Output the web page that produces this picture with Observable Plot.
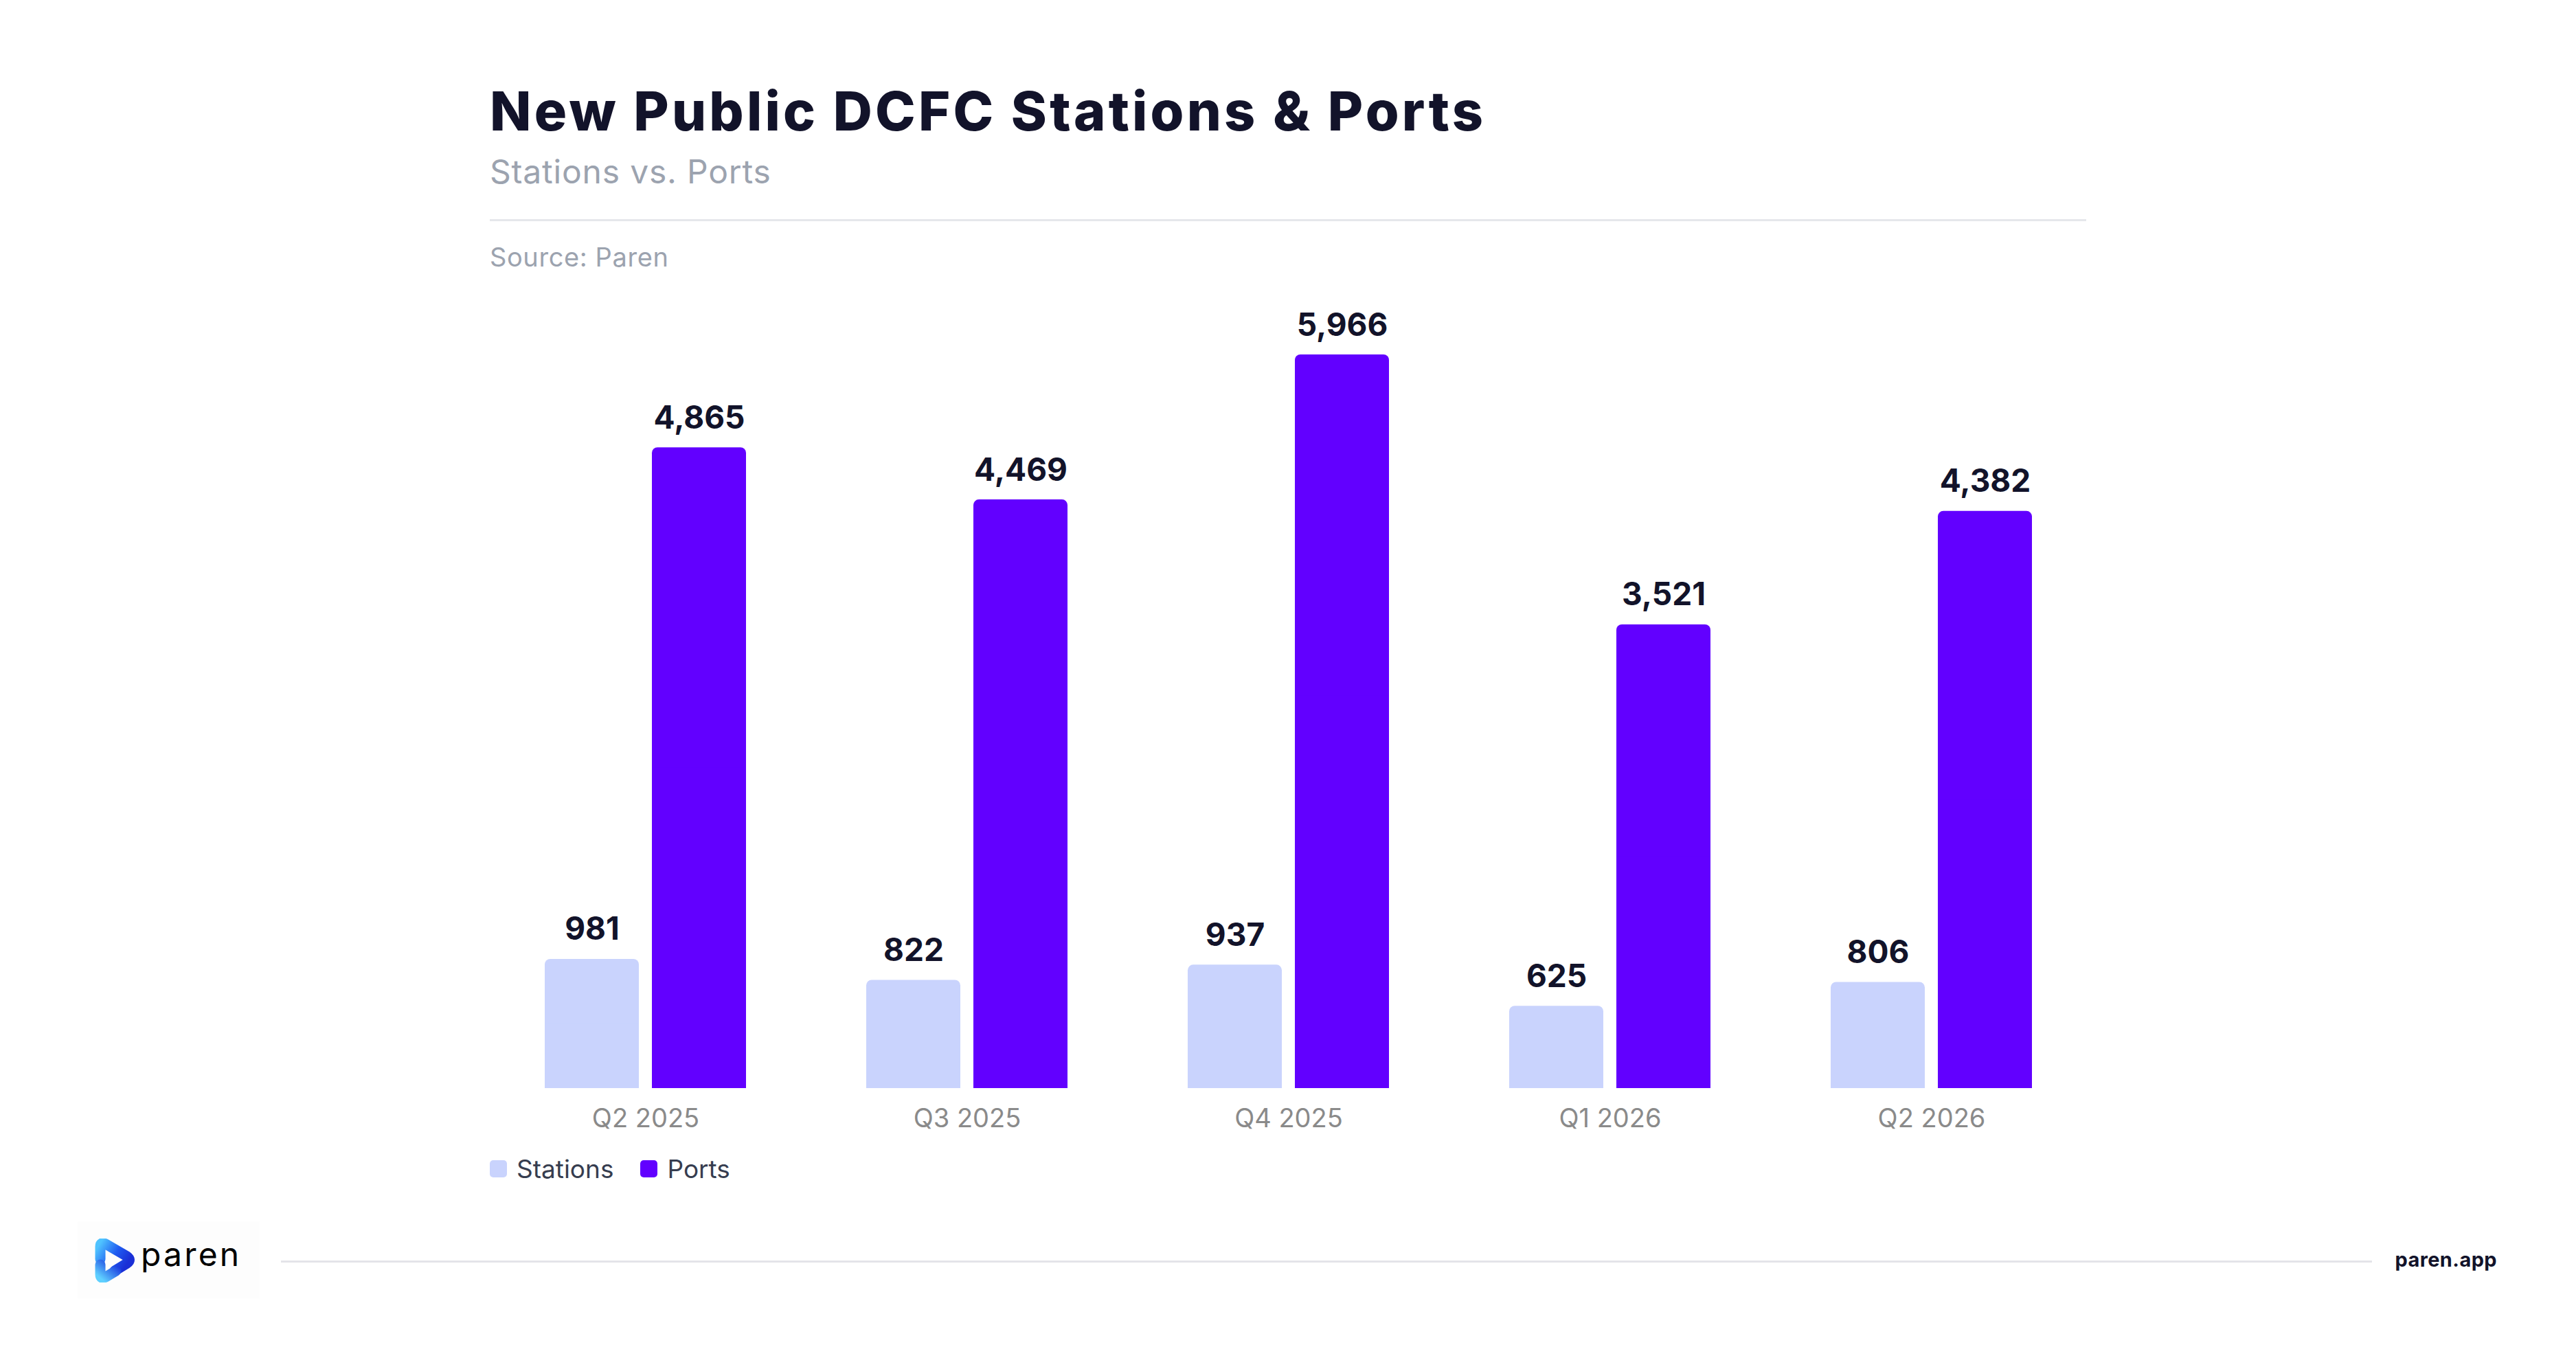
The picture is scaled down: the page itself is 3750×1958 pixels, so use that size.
<!DOCTYPE html>
<html>
<head>
<meta charset="utf-8">
<script src="https://cdn.jsdelivr.net/npm/d3@7"></script>
<script src="https://cdn.jsdelivr.net/npm/@observablehq/plot@0.6"></script>
<style>
  html, body { margin: 0; padding: 0; background: #ffffff; }
  body { width: 3750px; height: 1958px; position: relative; overflow: hidden; font-family: Inter, "Noto Sans", sans-serif; }
  .abs { position: absolute; line-height: 1; white-space: nowrap; }
  #title { left: 713px; top: 122px; font-size: 79px; font-weight: 800; color: #12132a; letter-spacing: 4.2px; }
  #subtitle { left: 713px; top: 226px; font-size: 48px; font-weight: 400; color: #9ca3af; letter-spacing: 0.8px; }
  #rule { left: 713px; top: 319px; width: 2324px; height: 3px; background: #e5e7eb; }
  #source { left: 713px; top: 355px; font-size: 38px; font-weight: 400; color: #9ca3af; letter-spacing: 0.6px; }
  #chart { left: 0; top: 400px; }
  #legend { left: 713px; top: 1683px; display: flex; align-items: center; font-size: 37px; color: #363d4f; }
  .sw { width: 25px; height: 25px; border-radius: 5px; display: inline-block; margin-right: 14px; }
  .item { display: flex; align-items: center; margin-right: 39px; }
  #logobox { left: 113px; top: 1778px; width: 265px; height: 112px; background: #fdfdfd; }
  #logotext { left: 205px; top: 1802px; font-size: 48px; font-weight: 400; color: #000; letter-spacing: 3.2px; }
  #footrule { left: 409px; top: 1835px; width: 3044px; height: 3px; background: #e4e4e9; }
  #site { right: 115px; top: 1819px; font-size: 29px; font-weight: 700; color: #12132a; letter-spacing: 0.4px; }
</style>
</head>
<body>
<div id="title" class="abs">New Public DCFC Stations &amp; Ports</div>
<div id="subtitle" class="abs">Stations vs. Ports</div>
<div id="rule" class="abs"></div>
<div id="source" class="abs">Source: Paren</div>
<div id="chart" class="abs"></div>
<div id="legend" class="abs"></div>
<div id="logobox" class="abs"></div>
<svg class="abs" style="left:137px;top:1803px" width="60" height="64" viewBox="0 0 60 64">
  <defs>
    <linearGradient id="lg" x1="0" y1="0" x2="1" y2="0.6">
      <stop offset="0" stop-color="#4fc3ff"/>
      <stop offset="0.55" stop-color="#1f5bf0"/>
      <stop offset="1" stop-color="#1a2fd6"/>
    </linearGradient>
    <linearGradient id="lg2" x1="0" y1="1" x2="1" y2="0">
      <stop offset="0" stop-color="#5fd0ff"/>
      <stop offset="1" stop-color="#1a3de0"/>
    </linearGradient>
  </defs>
  <path d="M9 30 L9 12 Q9 4 17 8 L48 26 Q55 31 48 36 L30 47" fill="none" stroke="url(#lg)" stroke-width="15" stroke-linecap="round" stroke-linejoin="round"/>
  <path d="M9 38 L9 52 Q9 60 17 56 L32 47" fill="none" stroke="url(#lg2)" stroke-width="15" stroke-linecap="round" stroke-linejoin="round"/>
</svg>
<div id="logotext" class="abs">paren</div>
<div id="footrule" class="abs"></div>
<div id="site" class="abs">paren.app</div>

<script>
// ---- data ----
const quarters = ["Q2 2025", "Q3 2025", "Q4 2025", "Q1 2026", "Q2 2026"];
const seriesNames = ["Stations", "Ports"];
const stations = [981, 822, 937, 625, 806];
const ports = [4865, 4469, 5966, 3521, 4382];
const seriesColors = ["#c9d3fd", "#6200ff"];

const rows = [];
quarters.forEach((q, i) => {
  rows.push({quarter: q, series: "Stations", value: stations[i]});
  rows.push({quarter: q, series: "Ports", value: ports[i]});
});

const fmt = d3.format(",");

const chart = Plot.plot({
  width: 3750,
  height: 1270,
  marginLeft: 713,
  marginRight: 713,
  marginTop: 116,
  marginBottom: 86,
  style: {fontFamily: "Inter, 'Noto Sans', sans-serif", fontSize: "38px", background: "transparent"},
  fx: {domain: quarters, paddingInner: 0.3747, paddingOuter: 0.1665, label: null, axis: null},
  x: {domain: seriesNames, paddingInner: 0.1218, paddingOuter: 0, axis: null},
  y: {domain: [0, 5570], clamp: true, axis: null},
  color: {domain: seriesNames, range: seriesColors},
  marks: [
    Plot.barY(rows, {fx: "quarter", x: "series", y: "value", fill: "series", rx: 8}),
    Plot.barY(rows, {fx: "quarter", x: "series", y: d => d.value / 2, fill: "series"}),
    Plot.text(rows, {
      fx: "quarter", x: "series", y: "value",
      text: d => fmt(d.value),
      lineAnchor: "bottom", dy: -28,
      fontSize: 46, fontWeight: 700, fill: "#12132a"
    }),
    Plot.axisFx({anchor: "bottom", tickSize: 0, tickPadding: 30, fontSize: 38, color: "#8a8a8a", label: null})
  ]
});
document.getElementById("chart").appendChild(chart);

// legend
const legend = document.getElementById("legend");
seriesNames.forEach((s, i) => {
  const item = document.createElement("div");
  item.className = "item";
  const sw = document.createElement("span");
  sw.className = "sw";
  sw.style.background = seriesColors[i];
  const t = document.createElement("span");
  t.textContent = s;
  item.appendChild(sw);
  item.appendChild(t);
  legend.appendChild(item);
});
</script>
</body>
</html>
